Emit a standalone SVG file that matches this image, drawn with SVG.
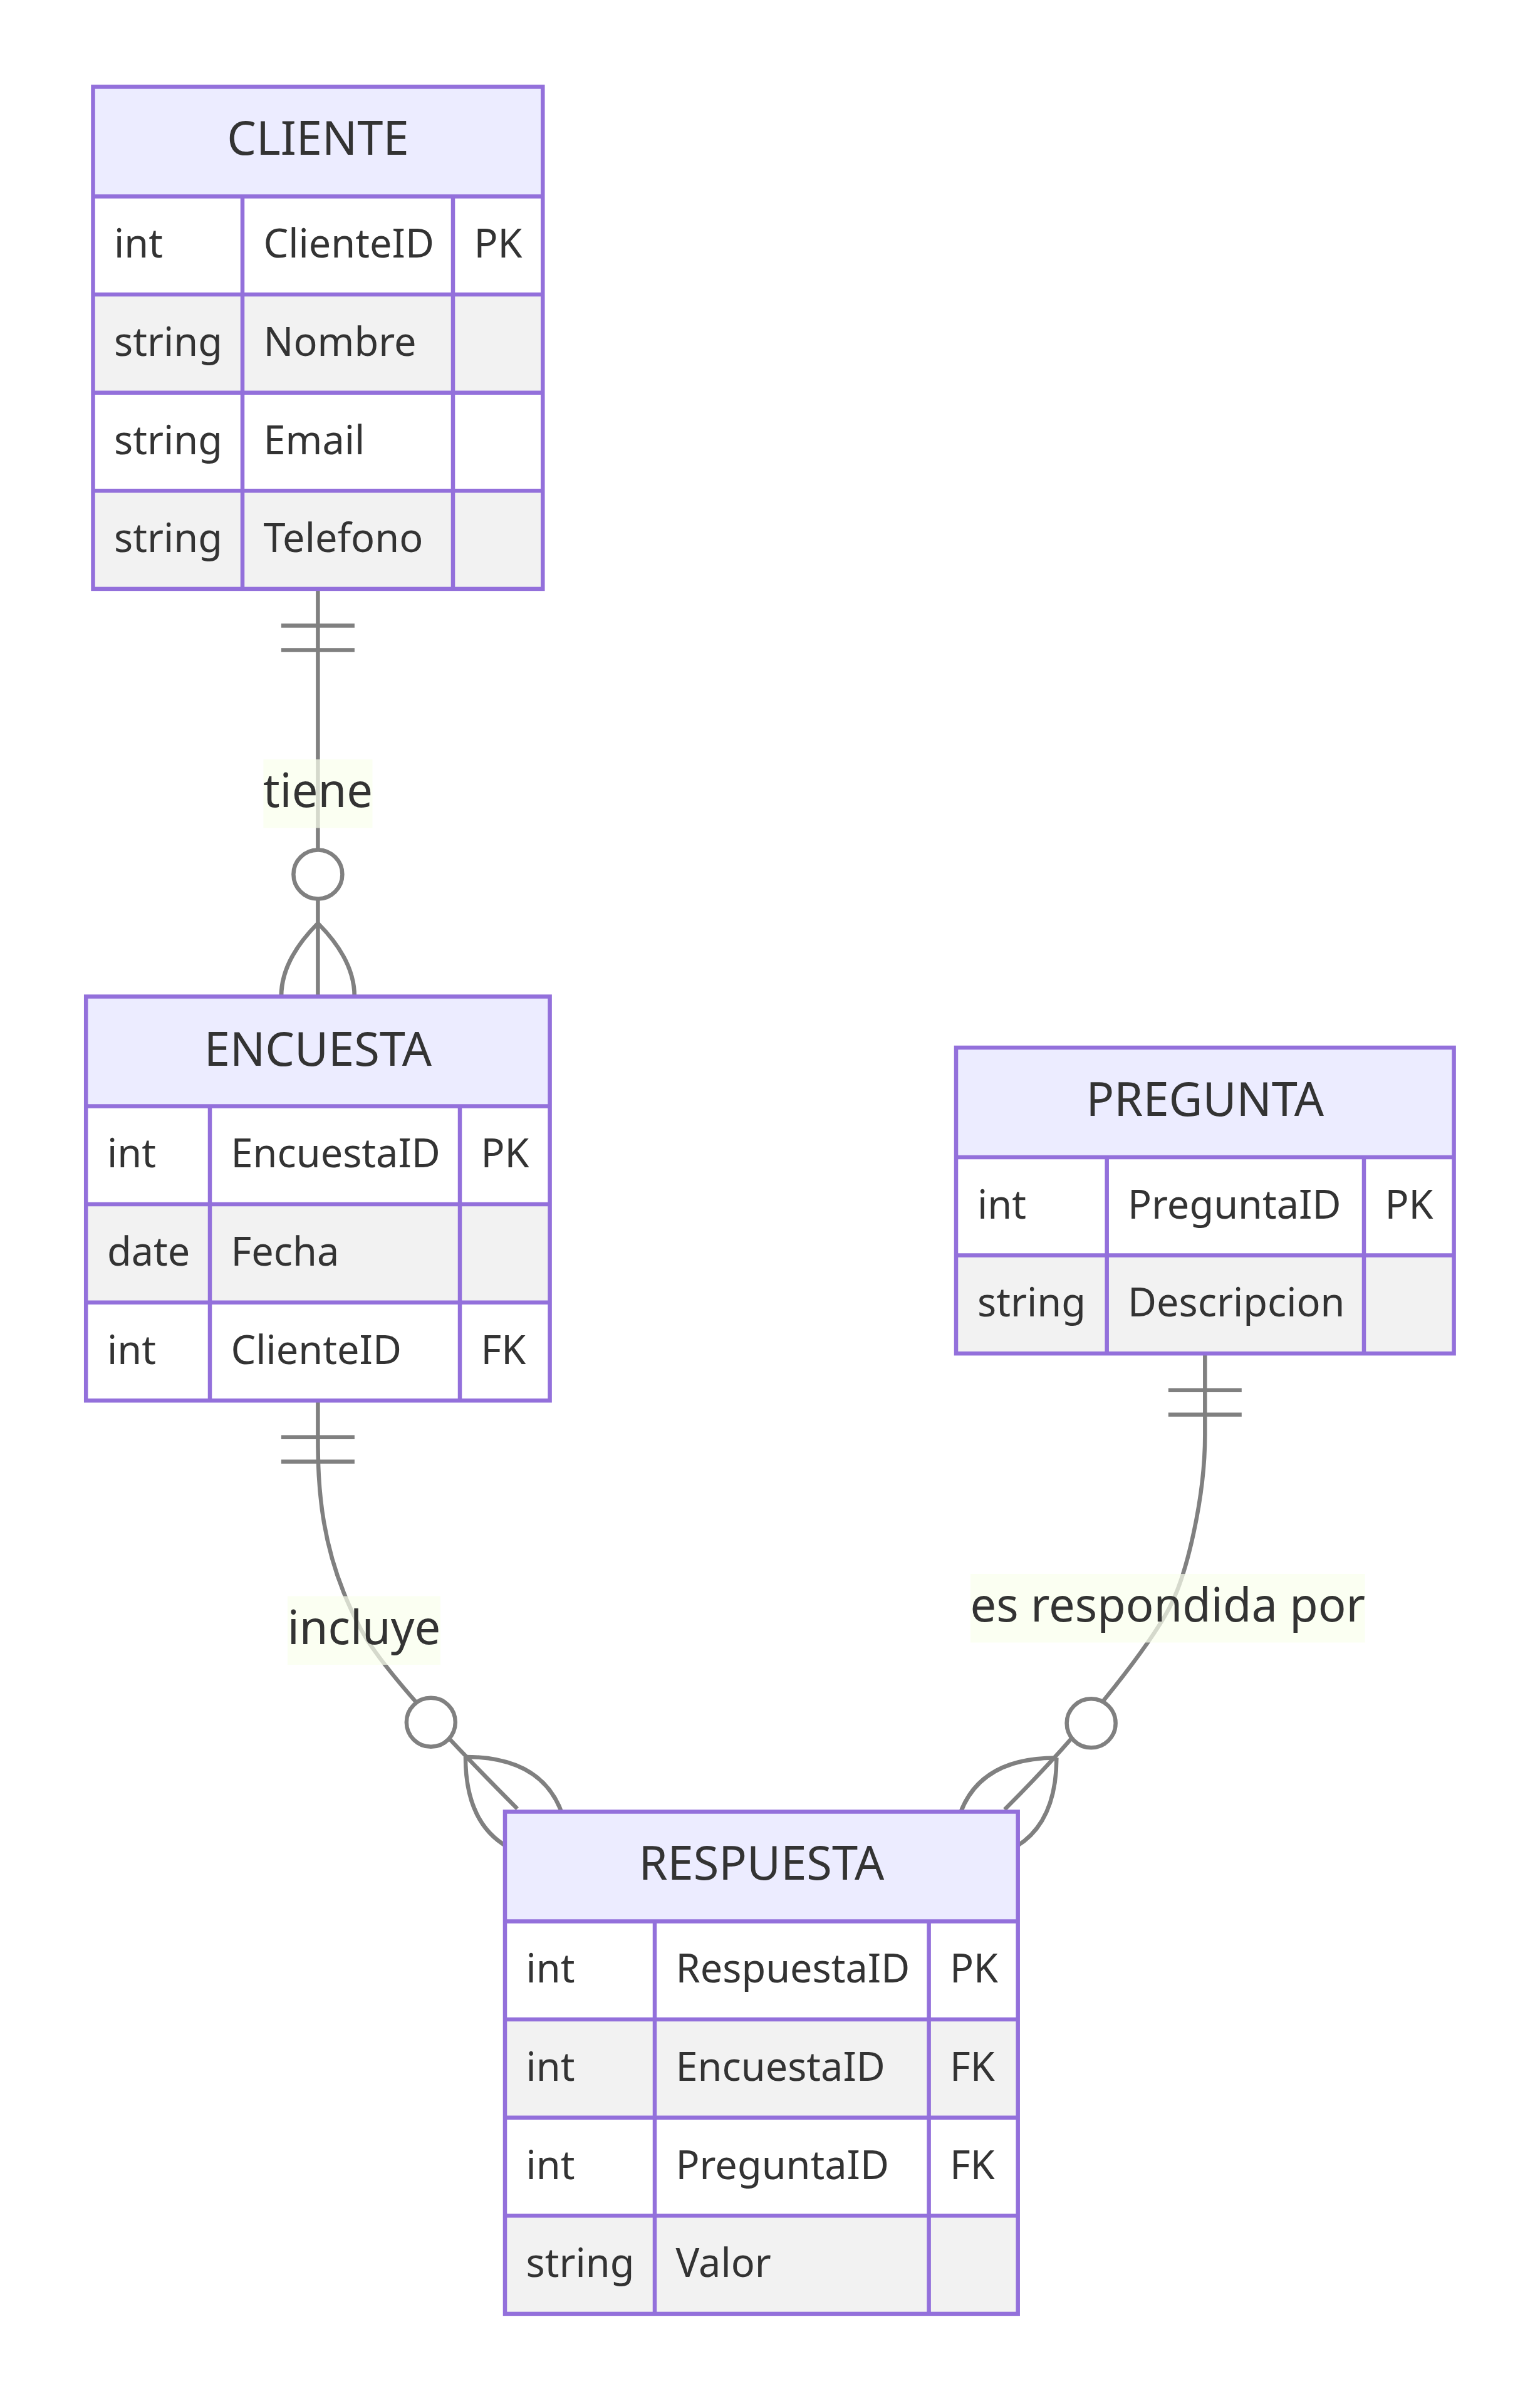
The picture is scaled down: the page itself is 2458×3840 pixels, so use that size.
<svg xmlns="http://www.w3.org/2000/svg" width="2458" height="3840" viewBox="0 0 2458 3840">
<style>
.hdr{fill:#ececff}
.odd{fill:#ffffff}
.even{fill:#f2f2f2}
.grid{stroke:#9370db;stroke-width:6.5;fill:none}
.border{stroke:#9370db;stroke-width:6.5;fill:none}
.tt{font-family:"Noto Sans","Liberation Sans",sans-serif;font-size:74px;fill:#333333;text-anchor:middle}
.ta{font-family:"Noto Sans","Liberation Sans",sans-serif;font-size:63px;fill:#333333}
.rel{stroke:#808080;stroke-width:6.5;fill:none}
.lblbg{fill:#f9ffec;opacity:0.7}
.lbl{font-family:"Noto Sans","Liberation Sans",sans-serif;font-size:74px;fill:#333333;text-anchor:middle}
</style>
<defs>
<marker id="oneStart" viewBox="0 0 18 18" refX="0" refY="9" markerWidth="117" markerHeight="117" markerUnits="userSpaceOnUse" orient="auto" overflow="visible">
<path d="M9,0 L9,18 M15,0 L15,18" stroke="#808080" stroke-width="1" fill="none"/>
</marker>
<marker id="zeroManyEnd" viewBox="0 0 57 36" refX="39" refY="18" markerWidth="370.5" markerHeight="234" markerUnits="userSpaceOnUse" orient="auto" overflow="visible">
<circle cx="9" cy="18" r="6" fill="#ffffff" stroke="#808080" stroke-width="1"/>
<path d="M21,18 Q39,0 57,18 Q39,36 21,18" fill="none" stroke="#808080" stroke-width="1"/>
</marker>
</defs>
<rect x="0" y="0" width="2458" height="3840" fill="#ffffff"/>

<g id="connectors">
<path class="rel" marker-start="url(#oneStart)" marker-end="url(#zeroManyEnd)" d="M507.4,939.9 L507.4,1590.5"/>
<path class="rel" marker-start="url(#oneStart)" marker-end="url(#zeroManyEnd)" d="M507.4,2235.3 L507.4,2290 C507.4,2370 510,2479 577,2602 C605.7,2654.7 684.3,2745.3 825.7,2886.7"/>
<path class="rel" marker-start="url(#oneStart)" marker-end="url(#zeroManyEnd)" d="M1923.3,2160.2 L1923.3,2290 C1923.3,2390 1894.2,2514.2 1866,2567 C1837.8,2619.8 1745.4,2746.6 1603.5,2888"/>
<g id="label-tiene">
<rect class="lblbg" x="420.4" y="1212" width="174" height="109.5"/>
<text class="lbl" x="507.4" y="1288">tiene</text>
</g>
<g id="label-incluye">
<rect class="lblbg" x="459" y="2547.5" width="244" height="109.5"/>
<text class="lbl" x="581" y="2624">incluye</text>
</g>
<g id="label-respondida">
<rect class="lblbg" x="1549" y="2512" width="629.6" height="109.5"/>
<text class="lbl" x="1863.8" y="2588">es respondida por</text>
</g>
</g>

<g id="CLIENTE">
<rect class="hdr" x="148.5" y="138.5" width="717.8" height="175"/>
<rect class="odd" x="148.5" y="313.5" width="717.8" height="156.6"/>
<rect class="even" x="148.5" y="470.1" width="717.8" height="156.6"/>
<rect class="odd" x="148.5" y="626.7" width="717.8" height="156.6"/>
<rect class="even" x="148.5" y="783.3" width="717.8" height="156.6"/>
<path class="grid" d="M148.5,313.5H866.3M148.5,470.1H866.3M148.5,626.7H866.3M148.5,783.3H866.3M387,313.5V939.9M723,313.5V939.9"/>
<rect class="border" x="148.5" y="138.5" width="717.8" height="801.4"/>
<text class="tt" x="507.4" y="247.3">CLIENTE</text>
<text class="ta" x="182" y="411.3">int</text>
<text class="ta" x="420.5" y="411.3">ClienteID</text>
<text class="ta" x="756.5" y="411.3">PK</text>
<text class="ta" x="182" y="567.9">string</text>
<text class="ta" x="420.5" y="567.9">Nombre</text>
<text class="ta" x="182" y="724.5">string</text>
<text class="ta" x="420.5" y="724.5">Email</text>
<text class="ta" x="182" y="881.1">string</text>
<text class="ta" x="420.5" y="881.1">Telefono</text>
</g>

<g id="ENCUESTA">
<rect class="hdr" x="137.2" y="1590.5" width="740.4" height="175"/>
<rect class="odd" x="137.2" y="1765.5" width="740.4" height="156.6"/>
<rect class="even" x="137.2" y="1922.1" width="740.4" height="156.6"/>
<rect class="odd" x="137.2" y="2078.7" width="740.4" height="156.6"/>
<path class="grid" d="M137.2,1765.5H877.6M137.2,1922.1H877.6M137.2,2078.7H877.6M335,1765.5V2235.3M734,1765.5V2235.3"/>
<rect class="border" x="137.2" y="1590.5" width="740.4" height="644.8"/>
<text class="tt" x="507.4" y="1700.5">ENCUESTA</text>
<text class="ta" x="171" y="1863.3">int</text>
<text class="ta" x="368.5" y="1863.3">EncuestaID</text>
<text class="ta" x="767.5" y="1863.3">PK</text>
<text class="ta" x="171" y="2019.9">date</text>
<text class="ta" x="368.5" y="2019.9">Fecha</text>
<text class="ta" x="171" y="2176.5">int</text>
<text class="ta" x="368.5" y="2176.5">ClienteID</text>
<text class="ta" x="767.5" y="2176.5">FK</text>
</g>

<g id="PREGUNTA">
<rect class="hdr" x="1526" y="1672" width="794.6" height="175"/>
<rect class="odd" x="1526" y="1847" width="794.6" height="156.6"/>
<rect class="even" x="1526" y="2003.6" width="794.6" height="156.6"/>
<path class="grid" d="M1526,1847H2320.6M1526,2003.6H2320.6M1766.7,1847V2160.2M2177,1847V2160.2"/>
<rect class="border" x="1526" y="1672" width="794.6" height="488.2"/>
<text class="tt" x="1923.3" y="1780.8">PREGUNTA</text>
<text class="ta" x="1560" y="1944.8">int</text>
<text class="ta" x="1800" y="1944.8">PreguntaID</text>
<text class="ta" x="2210.5" y="1944.8">PK</text>
<text class="ta" x="1560" y="2101.4">string</text>
<text class="ta" x="1800" y="2101.4">Descripcion</text>
</g>

<g id="RESPUESTA">
<rect class="hdr" x="806" y="2891.5" width="818.7" height="175"/>
<rect class="odd" x="806" y="3066.5" width="818.7" height="156.6"/>
<rect class="even" x="806" y="3223.1" width="818.7" height="156.6"/>
<rect class="odd" x="806" y="3379.7" width="818.7" height="156.6"/>
<rect class="even" x="806" y="3536.3" width="818.7" height="156.6"/>
<path class="grid" d="M806,3066.5H1624.7M806,3223.1H1624.7M806,3379.7H1624.7M806,3536.3H1624.7M1045,3066.5V3692.9M1482.6,3066.5V3692.9"/>
<rect class="border" x="806" y="2891.5" width="818.7" height="801.4"/>
<text class="tt" x="1215.35" y="3000.3">RESPUESTA</text>
<text class="ta" x="839.5" y="3164.3">int</text>
<text class="ta" x="1078.5" y="3164.3">RespuestaID</text>
<text class="ta" x="1516" y="3164.3">PK</text>
<text class="ta" x="839.5" y="3320.9">int</text>
<text class="ta" x="1078.5" y="3320.9">EncuestaID</text>
<text class="ta" x="1516" y="3320.9">FK</text>
<text class="ta" x="839.5" y="3477.5">int</text>
<text class="ta" x="1078.5" y="3477.5">PreguntaID</text>
<text class="ta" x="1516" y="3477.5">FK</text>
<text class="ta" x="839.5" y="3634.1">string</text>
<text class="ta" x="1078.5" y="3634.1">Valor</text>
</g>
</svg>
